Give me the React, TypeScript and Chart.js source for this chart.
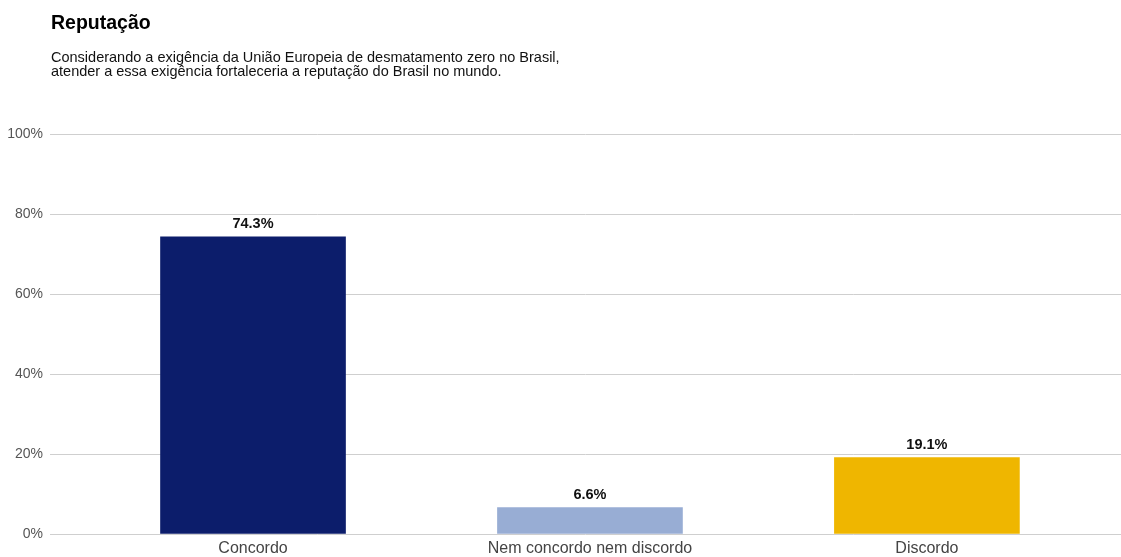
import React, { useEffect, useRef } from "react";
import { Chart, registerables } from "chart.js";

Chart.register(...registerables);

const titleText = "Reputação";
const subtitleLines = [
  "Considerando a exigência da União Europeia de desmatamento zero no Brasil,",
  "atender a essa exigência fortaleceria a reputação do Brasil no mundo.",
];
const categories = ["Concordo", "Nem concordo nem discordo", "Discordo"];
const values = [74.3, 6.6, 19.1];
const barColors = ["#0c1d6b", "#98add4", "#efb600"];
const yTicks = [0, 20, 40, 60, 80, 100];

const FONT = "'Liberation Sans', Arial, Helvetica, sans-serif";

const valueLabels = {
  id: "valueLabels",
  afterDatasetsDraw(chart: any) {
    const ctx = chart.ctx;
    const meta = chart.getDatasetMeta(0);
    ctx.save();
    ctx.font = `bold 14.5px ${FONT}`;
    ctx.fillStyle = "#111";
    ctx.textAlign = "center";
    ctx.textBaseline = "alphabetic";
    meta.data.forEach((bar: any, i: number) => {
      ctx.fillText(values[i].toFixed(1) + "%", bar.x, bar.y - 9);
    });
    ctx.restore();
  },
};

export default function App() {
  const canvasRef = useRef<HTMLCanvasElement | null>(null);

  useEffect(() => {
    if (!canvasRef.current) return;
    const chart = new Chart(canvasRef.current, {
      type: "bar",
      data: {
        datasets: [
          {
            data: values.map((v, i) => ({ x: i, y: v })),
            backgroundColor: barColors,
            borderWidth: 0,
            barThickness: 185,
          },
        ],
      },
      options: {
        animation: false,
        responsive: false,
        maintainAspectRatio: false,
        layout: { padding: { top: 134, right: 0, bottom: 0, left: 0 } },
        plugins: {
          legend: { display: false },
          tooltip: { enabled: false },
          title: { display: false },
        },
        scales: {
          x: {
            type: "linear",
            offset: false,
            min: -0.6025,
            max: 2.576,
            afterFit: (scale: any) => {
              scale.height = 23;
            },
            grid: { display: false, drawTicks: false },
            border: { display: false },
            ticks: {
              includeBounds: false,
              stepSize: 1,
              autoSkip: false,
              maxRotation: 0,
              padding: 5,
              color: "#444",
              font: { family: FONT, size: 16 },
              callback: (v: any) => categories[v as number] ?? "",
            },
          },
          y: {
            min: 0,
            max: 100,
            afterFit: (scale: any) => {
              scale.width = 50;
            },
            afterBuildTicks: (scale: any) => {
              scale.ticks = yTicks.map((v) => ({ value: v }));
            },
            grid: {
              color: "#cfcfcf",
              lineWidth: 1,
              drawTicks: false,
            },
            border: { display: false },
            ticks: {
              padding: 7,
              color: "#555",
              font: { family: FONT, size: 14 },
              callback: (v: any) => v + "%",
            },
          },
        },
      },
      plugins: [valueLabels],
    });
    return () => chart.destroy();
  }, []);

  return (
    <div
      style={{
        position: "fixed",
        left: 0,
        top: 0,
        width: 1121,
        height: 557,
        background: "#fff",
        fontFamily: FONT,
      }}
    >
      <canvas
        ref={canvasRef}
        width={1121}
        height={557}
        style={{ position: "absolute", left: 0, top: 0, width: 1121, height: 557 }}
      />
      <div
        style={{
          position: "absolute",
          left: 51,
          top: 10,
          fontSize: 19.5,
          fontWeight: "bold",
          color: "#000",
          lineHeight: "24px",
        }}
      >
        {titleText}
      </div>
      <div
        style={{
          position: "absolute",
          left: 51,
          top: 50,
          fontSize: 14.5,
          color: "#111",
          lineHeight: "14px",
        }}
      >
        {subtitleLines.map((l, i) => (
          <div key={i}>{l}</div>
        ))}
      </div>
    </div>
  );
}
